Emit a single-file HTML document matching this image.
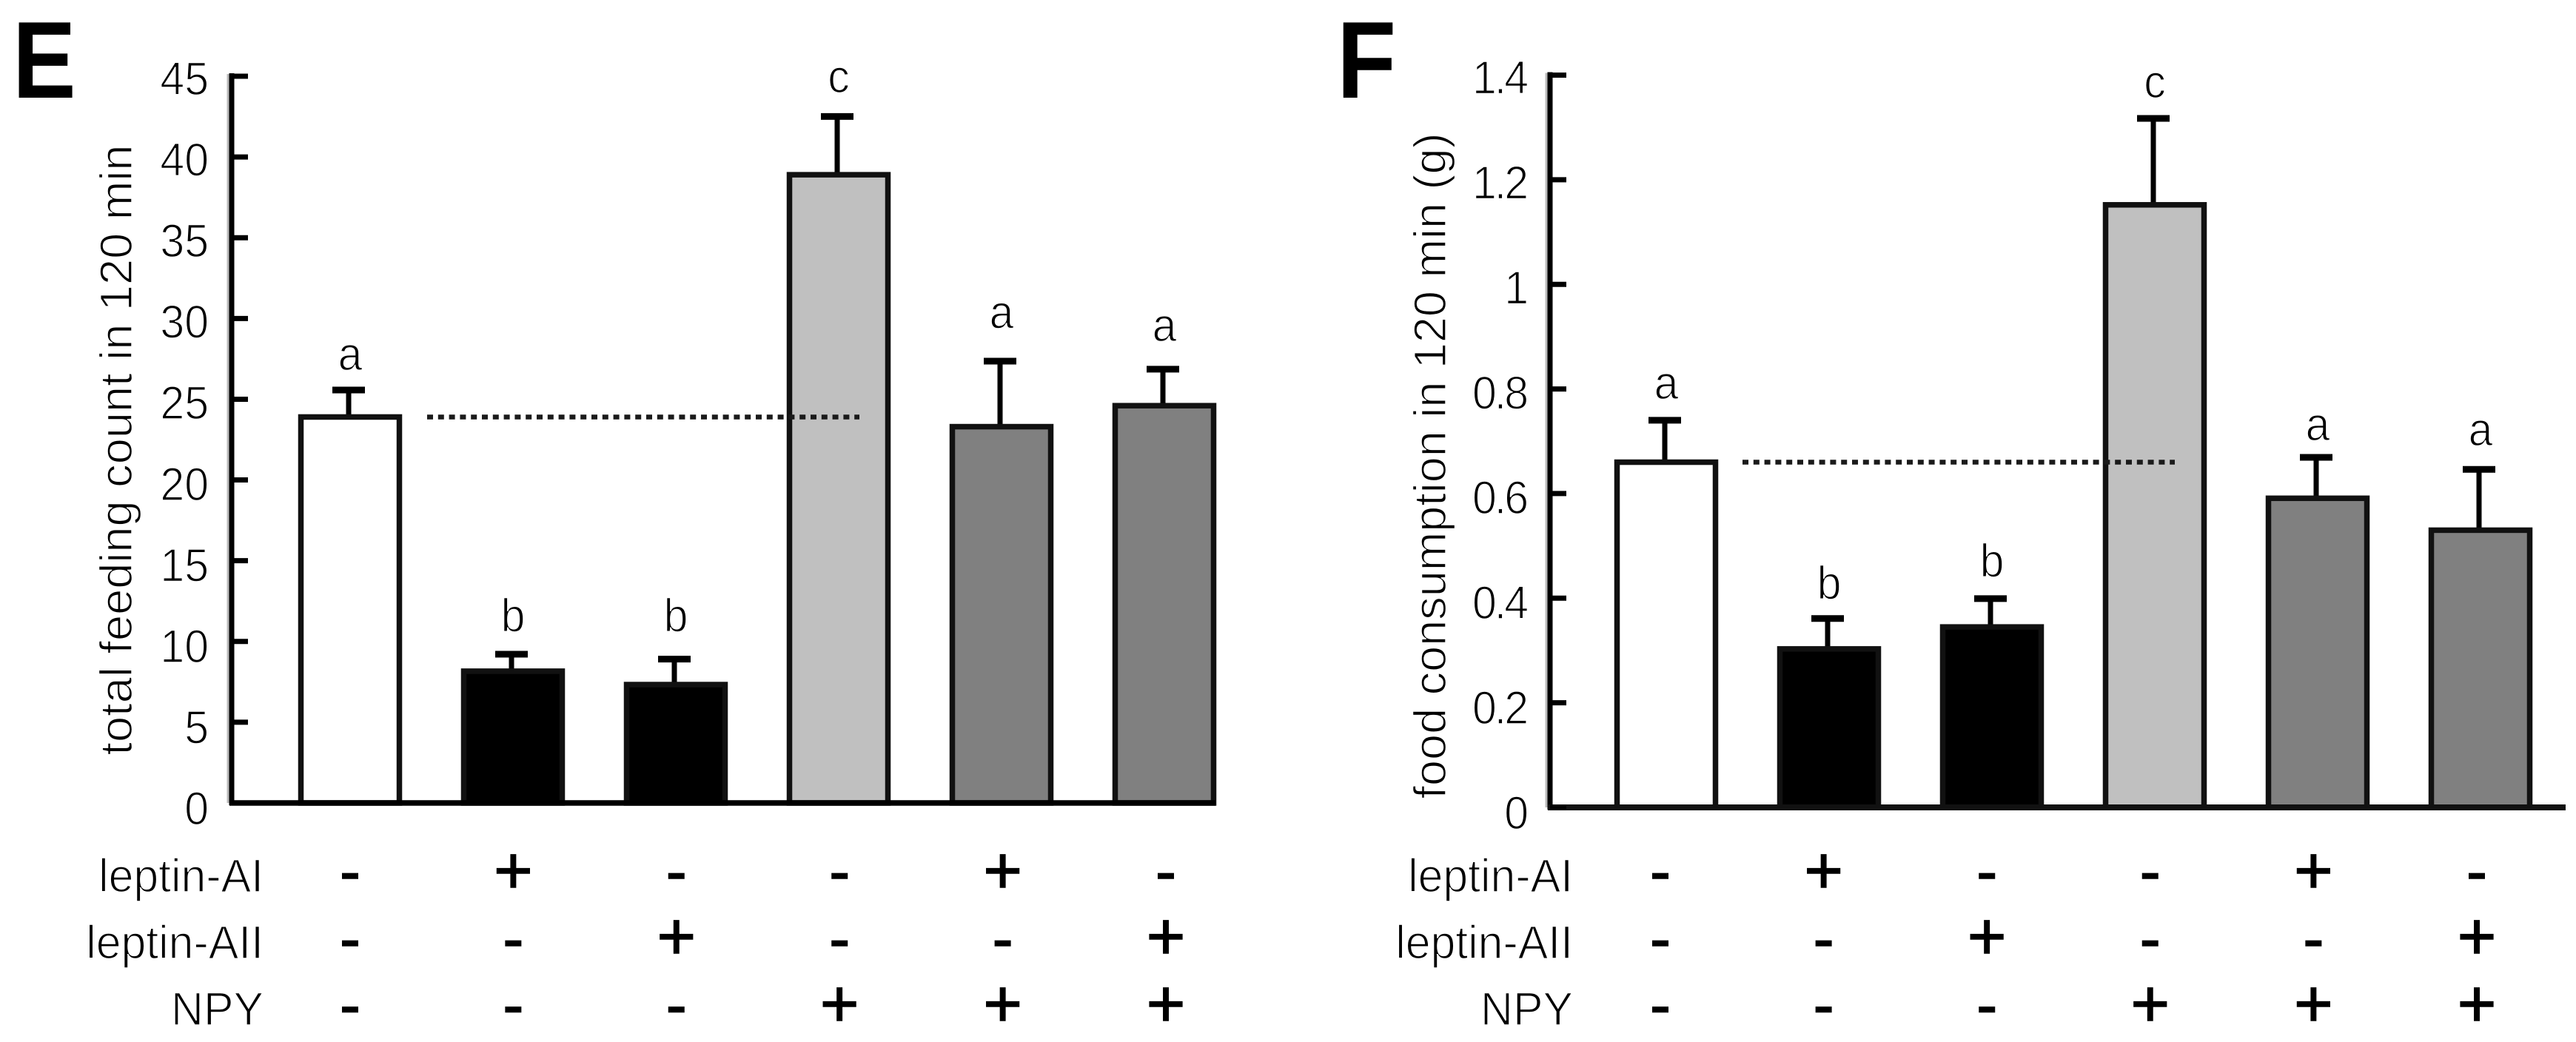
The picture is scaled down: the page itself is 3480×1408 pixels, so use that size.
<!DOCTYPE html>
<html lang="en">
<head>
<meta charset="utf-8">
<title>Feeding count and food consumption</title>
<style>
html,body{margin:0;padding:0;background:#fff;}
svg{display:block;}
text{font-family:"Liberation Sans",Arial,sans-serif;fill:#000;}
.thin{stroke:#fff;stroke-width:1.4px;}
.heavy{stroke:#000;stroke-width:1.5px;}
</style>
</head>
<body>
<svg id="figure" xmlns="http://www.w3.org/2000/svg" width="3480" height="1408" viewBox="0 0 3480 1408">
<rect x="0" y="0" width="3480" height="1408" fill="#fff"/>
<text transform="translate(17,132) scale(0.93,1.07)" font-size="138" font-weight="bold">E</text>
<text transform="translate(1806,132) scale(0.95,1.07)" font-size="138" font-weight="bold">F</text>
<g id="chart-e"></g>
<g id="chart-f"></g>
</svg>
<script>
// Shared treatment table
const rowLabels = ["leptin-AI", "leptin-AII", "NPY"];
const leptinAI = ["-", "+", "-", "-", "+", "-"];
const leptinAII = ["-", "-", "+", "-", "-", "+"];
const npy = ["-", "-", "-", "+", "+", "+"];
const barFills = ["#ffffff", "#000000", "#000000", "#c0c0c0", "#808080", "#808080"];

// Panel E data
const countTicks = ["0", "5", "10", "15", "20", "25", "30", "35", "40", "45"];
const countMeans = [23.9, 8.16, 7.33, 38.9, 23.3, 24.6];
const countUpper = [25.66, 9.3, 9.0, 42.6, 27.45, 26.95];
const countLetters = ["a", "b", "b", "c", "a", "a"];
const countLetterLevels = [26.8, 10.6, 10.6, 44.0, 29.4, 28.6];

// Panel F data
const foodTicks = ["0", "0.2", "0.4", "0.6", "0.8", "1", "1.2", "1.4"];
const foodMeans = [0.66, 0.303, 0.345, 1.152, 0.591, 0.53];
const foodUpper = [0.743, 0.364, 0.402, 1.32, 0.672, 0.649];
const foodLetters = ["a", "b", "b", "c", "a", "a"];
const foodLetterLevels = [0.781, 0.398, 0.441, 1.357, 0.702, 0.692];

const NS = "http://www.w3.org/2000/svg";
const TEXT_STRETCH = 1.07;

function mk(parent, tag, attrs, content) {
  const el = document.createElementNS(NS, tag);
  for (const k in attrs) el.setAttribute(k, attrs[k]);
  if (content !== undefined) el.textContent = content;
  parent.appendChild(el);
  return el;
}

function place(x, y, sx) {
  return "translate(" + x + "," + y + ") scale(" + (sx || 1) + "," + TEXT_STRETCH + ")";
}

function drawChart(root, cfg) {
  const yScale = v => cfg.baseY - (v / cfg.yMax) * (cfg.baseY - cfg.topY);
  const xBand = i => cfg.barX0 + i * cfg.barStep;
  const xSign = i => cfg.signX0 + i * cfg.signStep;
  let el;

  // Error bars (behind the bars)
  cfg.means.forEach((m, i) => {
    const cx = xBand(i) - 2;
    el = mk(root, "line", {x1: cx, x2: cx, y1: yScale(m), y2: yScale(cfg.upper[i]), stroke: "#000", "stroke-width": 7});
    
    
    el = mk(root, "line", {x1: cx - 22, x2: cx + 22, y1: yScale(cfg.upper[i]) + 2, y2: yScale(cfg.upper[i]) + 2, stroke: "#000", "stroke-width": 9});
    
    
  });

  // Bars
  cfg.means.forEach((m, i) => {
    const half = 66.5;
    el = mk(root, "rect", {
      x: xBand(i) - half, width: half * 2,
      y: yScale(m), height: Math.max(0, cfg.baseY - yScale(m)),
      fill: barFills[i], stroke: "#111", "stroke-width": 7.5
    });
    
    
  });

  // Reference dotted line at the level of the first bar
  el = mk(root, "line", {
    x1: cfg.dotX1, x2: cfg.dotX2, y1: yScale(cfg.means[0]), y2: yScale(cfg.means[0]),
    stroke: "#1a1a1a", "stroke-width": 6.5, "stroke-dasharray": "8 6.8"
  });
  
  

  // Axes
  el = mk(root, "line", {x1: cfg.axisX - 5, x2: cfg.axisX - 5, y1: cfg.topY - 3, y2: cfg.baseY, stroke: "#bbb", "stroke-width": 3});
  
  
  el = mk(root, "line", {x1: cfg.axisX, x2: cfg.axisX, y1: cfg.topY - 4, y2: cfg.baseY + 3, stroke: "#000", "stroke-width": 7});
  
  
  el = mk(root, "line", {x1: cfg.axisX - 3, x2: cfg.axisEnd, y1: cfg.baseY, y2: cfg.baseY, stroke: cfg.baseColor, "stroke-width": cfg.baseWidth});
  
  

  // Y ticks and labels
  cfg.ticks.forEach((t, i) => {
    const y = yScale(Number(t));
    const hasDot = t.indexOf(".") >= 0;
    const drop = 25 + 4 * (1 - i / (cfg.ticks.length - 1));
    el = mk(root, "line", {x1: cfg.axisX, x2: cfg.axisX + 22, y1: y, y2: y, stroke: "#000", "stroke-width": 7});
    
    
    el = mk(root, "text", {
      transform: place(cfg.tickLabelX - (hasDot ? 3 : 0), y + drop),
      "text-anchor": "end", "font-size": 59, "letter-spacing": hasDot ? -3 : 0, class: "thin"
    }, t);
    
    
  });

  // Significance letters
  cfg.letters.forEach((s, i) => {
    el = mk(root, "text", {transform: place(xBand(i), yScale(cfg.letterLevels[i])), "text-anchor": "middle", "font-size": 59, class: "thin"}, s);
    
    
  });

  // Y axis title
  el = mk(root, "text", {
    transform: "translate(" + cfg.titleX + "," + cfg.titleY + ") rotate(-90)",
    "text-anchor": "middle", "font-size": 61, textLength: cfg.titleLen, lengthAdjust: "spacingAndGlyphs", class: "thin"
  }, cfg.title);
  
  

  // Treatment table
  const rows = [leptinAI, leptinAII, npy];
  const hyphenY = [1184, 1275, 1364.5];
  const plusY = [1176, 1265, 1356];
  const labelY = [1205, 1295, 1385];
  rowLabels.forEach((label, r) => {
    el = mk(root, "text", {transform: place(cfg.rowLabelX, labelY[r], 1.03), "text-anchor": "end", "font-size": 59, class: "thin"}, label);
    
    
    rows[r].forEach((sign, i) => {
      const isPlus = sign === "+";
      el = mk(root, "text", {
        x: xSign(i),
        y: isPlus ? plusY[r] + 31 : hyphenY[r] + 22,
        "text-anchor": "middle",
        "font-size": isPlus ? 90 : 84,
        class: "heavy"
      }, sign);
      
      
    });
  });
}

drawChart(document.getElementById("chart-e"), {
  key: "e", means: countMeans, upper: countUpper, ticks: countTicks,
  letters: countLetters, letterLevels: countLetterLevels, yMax: 45,
  topY: 103, baseY: 1085, axisX: 313, axisEnd: 1642, baseWidth: 7.5, baseColor: "#000",
  barX0: 473, barStep: 220, signX0: 473, signStep: 220.4,
  dotX1: 577, dotX2: 1161, tickLabelX: 282, rowLabelX: 356,
  title: "total feeding count in 120 min", titleX: 178, titleY: 608, titleLen: 825
});

drawChart(document.getElementById("chart-f"), {
  key: "f", means: foodMeans, upper: foodUpper, ticks: foodTicks,
  letters: foodLetters, letterLevels: foodLetterLevels, yMax: 1.4,
  topY: 101.5, baseY: 1091, axisX: 2094, axisEnd: 3466, baseWidth: 8, baseColor: "#111",
  barX0: 2251, barStep: 220, signX0: 2243, signStep: 220.6,
  dotX1: 2354, dotX2: 2938, tickLabelX: 2065, rowLabelX: 2125,
  title: "food consumption in 120 min (g)", titleX: 1953, titleY: 629.5, titleLen: 900
});
</script>
</body>
</html>
